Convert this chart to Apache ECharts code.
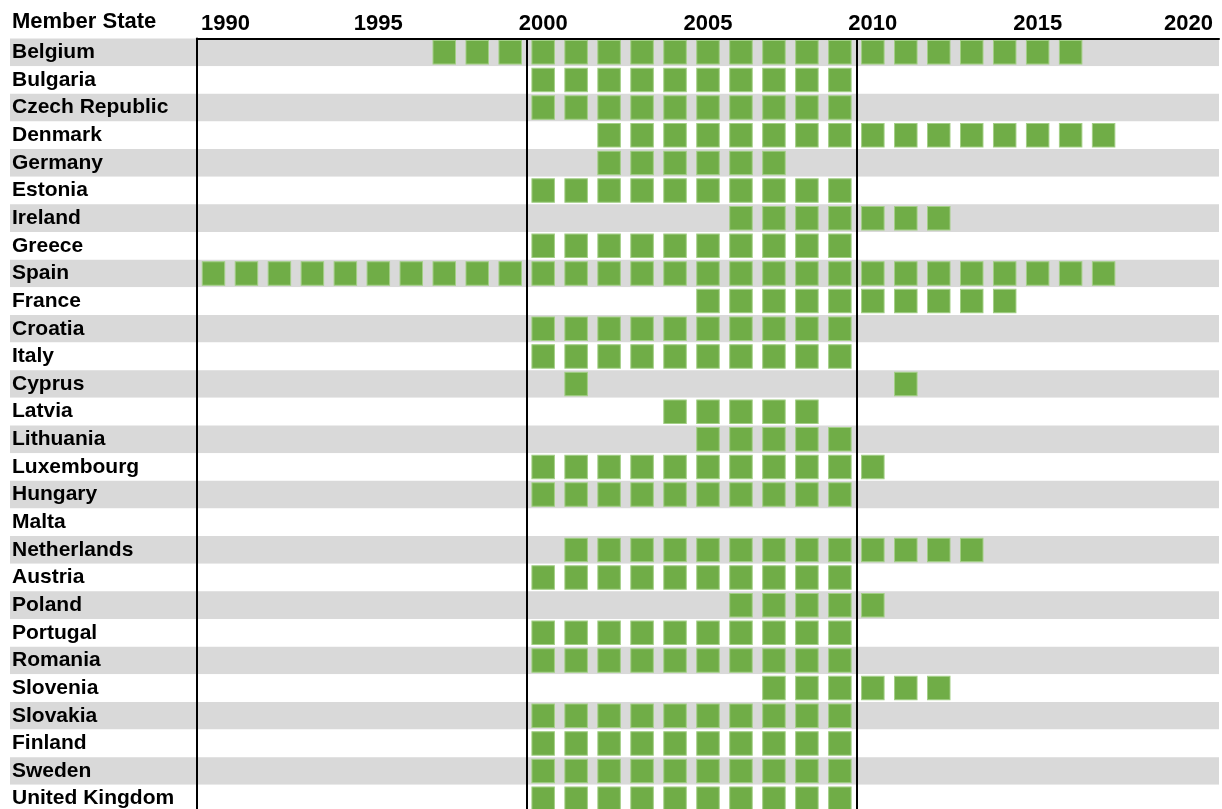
<!DOCTYPE html>
<html>
<head>
<meta charset="utf-8">
<script src="https://cdn.jsdelivr.net/npm/echarts@6/dist/echarts.min.js"></script>
<style>
  html, body { margin: 0; padding: 0; background: #fff; overflow: hidden; }
  #chart { width: 1222px; height: 809px; }
</style>
</head>
<body>
<div id="chart"></div>
<script>
// rows, top to bottom
const memberStates = [
  'Belgium', 'Bulgaria', 'Czech Republic', 'Denmark', 'Germany', 'Estonia', 'Ireland',
  'Greece', 'Spain', 'France', 'Croatia', 'Italy', 'Cyprus', 'Latvia', 'Lithuania',
  'Luxembourg', 'Hungary', 'Malta', 'Netherlands', 'Austria', 'Poland', 'Portugal',
  'Romania', 'Slovenia', 'Slovakia', 'Finland', 'Sweden', 'United Kingdom'
];

const decade2000s = [2000, 2001, 2002, 2003, 2004, 2005, 2006, 2007, 2008, 2009];

// years with a green square, one list per member state (same order as above)
const activeYears = [
  [1997, 1998, 1999, 2000, 2001, 2002, 2003, 2004, 2005, 2006, 2007, 2008, 2009, 2010, 2011, 2012, 2013, 2014, 2015, 2016],
  decade2000s,
  decade2000s,
  [2002, 2003, 2004, 2005, 2006, 2007, 2008, 2009, 2010, 2011, 2012, 2013, 2014, 2015, 2016, 2017],
  [2002, 2003, 2004, 2005, 2006, 2007],
  decade2000s,
  [2006, 2007, 2008, 2009, 2010, 2011, 2012],
  decade2000s,
  [1990, 1991, 1992, 1993, 1994, 1995, 1996, 1997, 1998, 1999, 2000, 2001, 2002, 2003, 2004, 2005, 2006, 2007, 2008, 2009, 2010, 2011, 2012, 2013, 2014, 2015, 2016, 2017],
  [2005, 2006, 2007, 2008, 2009, 2010, 2011, 2012, 2013, 2014],
  decade2000s,
  decade2000s,
  [2001, 2011],
  [2004, 2005, 2006, 2007, 2008],
  [2005, 2006, 2007, 2008, 2009],
  [2000, 2001, 2002, 2003, 2004, 2005, 2006, 2007, 2008, 2009, 2010],
  decade2000s,
  [],
  [2001, 2002, 2003, 2004, 2005, 2006, 2007, 2008, 2009, 2010, 2011, 2012, 2013],
  decade2000s,
  [2006, 2007, 2008, 2009, 2010],
  decade2000s,
  decade2000s,
  [2007, 2008, 2009, 2010, 2011, 2012],
  decade2000s,
  decade2000s,
  decade2000s,
  decade2000s
];

const yearTicks = [1990, 1995, 2000, 2005, 2010, 2015, 2020];
const periodBreaks = [1999.5, 2009.5];

const FONT = '"Liberation Sans", Arial, sans-serif';
const stripes = ['#D9D9D9', '#FFFFFF'];

const points = [];
memberStates.forEach((state, i) => {
  activeYears[i].forEach(y => points.push([y, state]));
});

const chart = echarts.init(document.getElementById('chart'));

chart.setOption({
  animation: false,
  backgroundColor: '#fff',
  title: {
    text: 'Member State',
    left: 12,
    top: 11,
    padding: 0,
    textStyle: { fontFamily: FONT, fontWeight: 'bold', fontSize: 22, color: '#000' }
  },
  grid: [
    { left: 10, top: 38.5, width: 187, height: 774, outerBoundsMode: 'none' },
    { left: 197, top: 38.5, width: 1022, height: 774, outerBoundsMode: 'none' }
  ],
  xAxis: [
    { type: 'value', gridIndex: 0, show: false, min: 0, max: 1 },
    {
      type: 'value',
      gridIndex: 1,
      position: 'top',
      min: 1989.5,
      max: 2020.5,
      axisLine: { show: true, lineStyle: { color: '#000', width: 2 } },
      axisTick: { show: false },
      splitLine: { show: false },
      axisLabel: {
        customValues: yearTicks,
        margin: 4,
        fontFamily: FONT,
        fontWeight: 'bold',
        fontSize: 22,
        color: '#000',
        formatter: (v) => {
          if (v === yearTicks[0]) return '{first|' + v + '}';
          if (v === yearTicks[yearTicks.length - 1]) return '{last|' + v + '}';
          return String(v);
        },
        rich: {
          first: { fontFamily: FONT, fontWeight: 'bold', fontSize: 22, color: '#000', padding: [0, 0, 0, 24] },
          last: { fontFamily: FONT, fontWeight: 'bold', fontSize: 22, color: '#000', padding: [0, 28, 0, 0] }
        }
      }
    }
  ],
  yAxis: [
    {
      type: 'category',
      gridIndex: 0,
      data: memberStates,
      inverse: true,
      axisLine: { show: false },
      axisTick: { show: false },
      splitArea: { show: true, areaStyle: { color: stripes } },
      axisLabel: {
        inside: true,
        margin: 2,
        fontFamily: FONT,
        fontWeight: 'bold',
        fontSize: 21,
        color: '#000'
      }
    },
    {
      type: 'category',
      gridIndex: 1,
      data: memberStates,
      inverse: true,
      axisLine: { show: true, lineStyle: { color: '#000', width: 2 } },
      axisTick: { show: false },
      axisLabel: { show: false },
      splitArea: { show: true, areaStyle: { color: stripes } }
    }
  ],
  series: [
    {
      type: 'scatter',
      xAxisIndex: 1,
      yAxisIndex: 1,
      symbol: 'rect',
      symbolSize: [22.5, 23.5],
      silent: true,
      itemStyle: { color: '#70AD47', borderColor: '#A3CF86', borderWidth: 1, opacity: 1 },
      data: points,
      markLine: {
        silent: true,
        symbol: ['none', 'none'],
        label: { show: false },
        lineStyle: { color: '#000', width: 2, type: 'solid' },
        data: periodBreaks.map(x => ({ xAxis: x }))
      }
    }
  ]
});
</script>
</body>
</html>
